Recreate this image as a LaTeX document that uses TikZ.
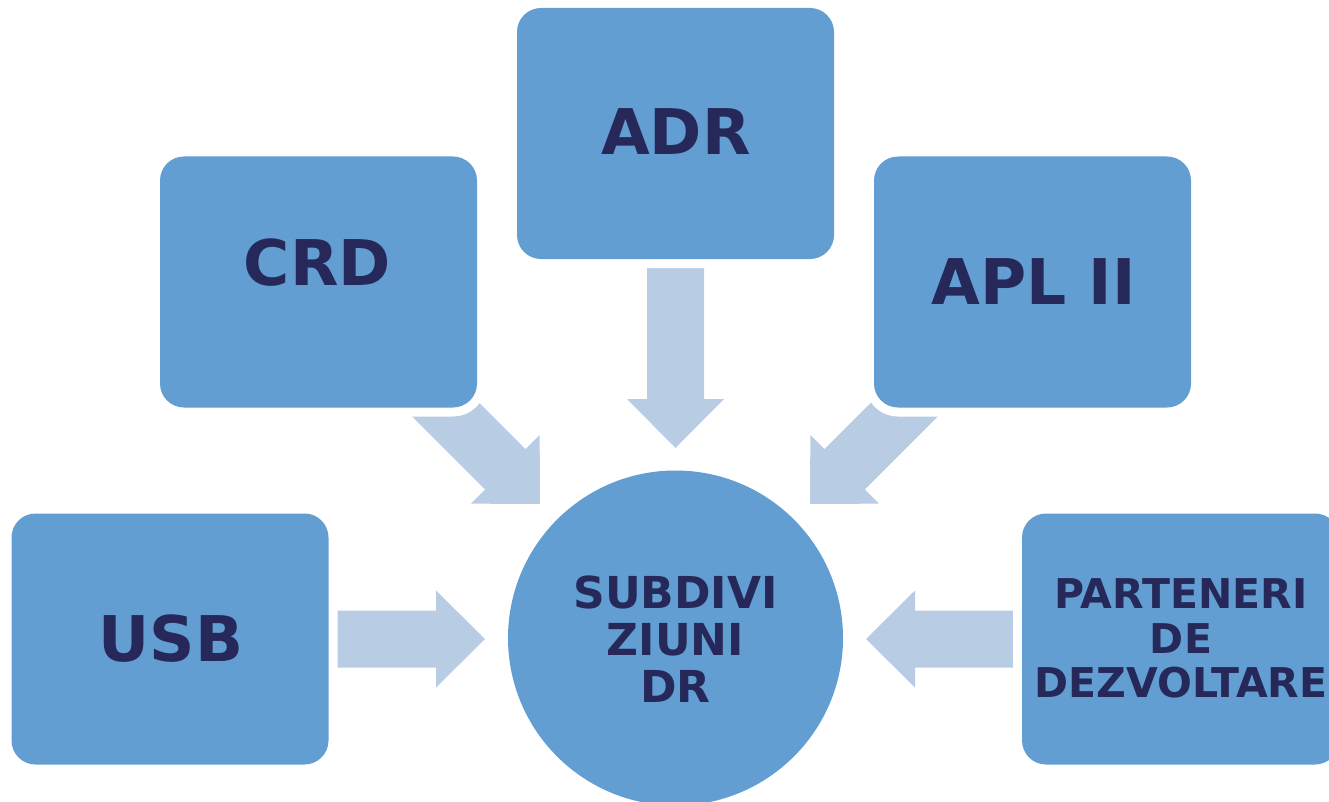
\documentclass[tikz,border=0pt]{standalone}
\usepackage{fontspec}
\setmainfont{DejaVu Sans}
\definecolor{boxblue}{RGB}{98,158,209}
\definecolor{arrowblue}{RGB}{184,204,228}
\definecolor{navytext}{RGB}{37,40,89}
\begin{document}
\begin{tikzpicture}[x=1pt,y=-1pt,
  box/.style={rectangle, rounded corners=24pt, fill=boxblue, minimum width=317pt,
    minimum height=251pt, inner sep=0pt, preaction={draw=white, line width=18pt}},
  hub/.style={circle, fill=boxblue, minimum size=335pt, inner sep=0pt,
    preaction={draw=white, line width=18pt}},
  bigtext/.style={font=\bfseries\fontsize{63}{70}\selectfont, text=navytext, inner sep=0pt, anchor=base},
  midtext/.style={font=\bfseries\fontsize{44}{47}\selectfont, text=navytext, inner sep=0pt, align=center},
  smalltext/.style={font=\bfseries\fontsize{41}{44.5}\selectfont, text=navytext, inner sep=0pt, align=center},
  pics/blockarrow/.style={code={
    \fill[arrowblue] (0,0) -- (-49,-48.5) -- (-49,-28.5) -- (-#1,-28.5)
      -- (-#1,28.5) -- (-49,28.5) -- (-49,48.5) -- cycle;}}
]
\useasboundingbox (0,0) rectangle (1329,802);
\clip (0,0) rectangle (1329,802);

% arrow tips
\coordinate (tipADR) at (675.5,448);
\coordinate (tipCRD) at (540,504);
\coordinate (tipAPL) at (810,504);
\coordinate (tipUSB) at (485,639);
\coordinate (tipPART) at (866,639);

% block arrows (behind the boxes)
\pic[rotate=-90] at (tipADR) {blockarrow=218};
\pic[rotate=-45] at (tipCRD) {blockarrow=200};
\pic[rotate=-135] at (tipAPL) {blockarrow=200};
\pic at (tipUSB) {blockarrow=185};
\pic[rotate=180] at (tipPART) {blockarrow=185};

% boxes
\node[box] (adr) at (675.5,133.5) {};
\node[box] (crd) at (318.5,282) {};
\node[box] (apl) at (1032.5,282) {};
\node[box] (usb) at (170,639) {};
\node[box] (part) at (1180.5,639) {};
\node[hub] (hub) at (675.5,638) {};

% texts
\node[bigtext] (tadr) at (676,155) {ADR};
\node[bigtext] (tcrd) at (317.5,285) {CRD};
\node[bigtext] (tapl) at (1033.5,304) {APL II};
\node[bigtext] (tusb) at (171,661) {USB};
\node[midtext] (thub) at (675.5,639) {SUBDIVI\\ZIUNI\\DR};
\node[smalltext] (tpart) at (1181,638.5) {PARTENERI\\DE\\DEZVOLTARE};
\end{tikzpicture}
\end{document}
